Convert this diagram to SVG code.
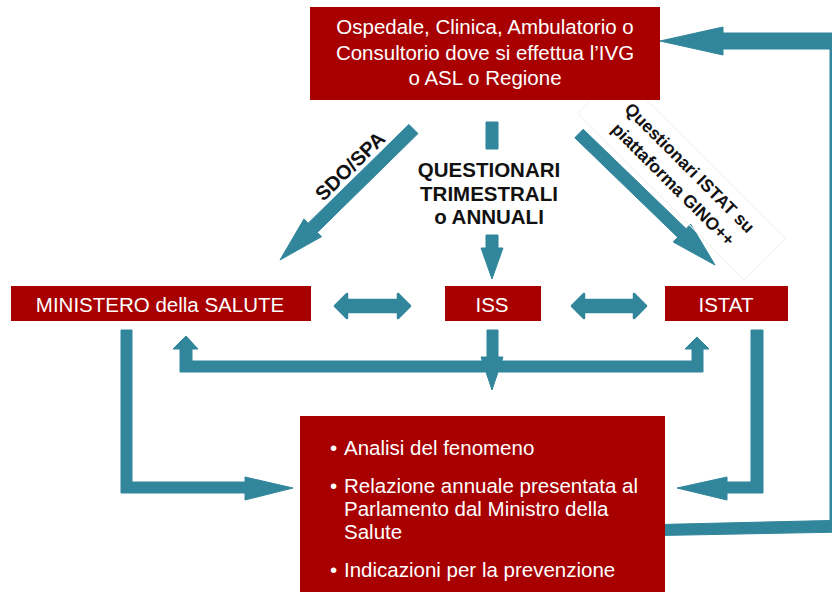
<svg xmlns="http://www.w3.org/2000/svg" width="832" height="592" viewBox="0 0 832 592">
<style>
.box{fill:#a80000;}
.bt{font-family:"Liberation Sans",Arial,sans-serif;font-size:20.5px;fill:#ffffff;}
.c{text-anchor:middle;}
.lbl{font-family:"Liberation Sans",Arial,sans-serif;font-weight:bold;fill:#111111;}
.con{fill:#31869b;stroke:#31869b;stroke-width:1;stroke-linejoin:round;}
.dbl{fill:#31869b;stroke:#31869b;stroke-width:2.5;stroke-linejoin:round;}
</style>
<rect width="832" height="592" fill="#ffffff"/>
<g id="connectors">
  <!-- feedback loop from results back to top -->
  <path class="con" d="M660 524.5 L830 520.5 L830 49 L723 49 L723 55 L660 41 L723 27 L723 33 L845 33 L845 532 L660 535.5 Z"/>
  <!-- SDO/SPA -->
  <polygon class="con" points="408.9,124.4 418,133.6 317.3,232.4 321.5,236.7 280,260 304,218.9 308.2,223.2"/>
  <!-- questionari -->
  <rect class="con" x="486" y="122" width="12" height="27"/>
  <polygon class="con" points="486,235 498,235 498,248 503,248 492,279 481,248 486,248"/>
  <!-- ISTAT questionnaires -->
  <polygon class="con" points="583.2,129.2 686.1,228.7 690.6,224 715,265 673.2,242 677.7,237.3 574.8,137.8"/>
  <!-- double arrows -->
  <polygon class="dbl" points="335,306 347,294 347,300 398,300 398,294 410,306 398,318 398,312 347,312 347,318"/>
  <polygon class="dbl" points="572,306 584,294 584,300 634,300 634,294 646,306 634,318 634,312 584,312 584,318"/>
  <!-- distribution bar -->
  <polygon class="con" points="180,372 180,349 173,349 186,336 198,349 192,349 192,361 692,361 692,349 685,349 697,337 709,349 703,349 703,372"/>
  <rect class="con" x="487" y="330" width="11" height="28"/>
  <polygon class="con" points="481,357 503,357 492,390"/>
  <!-- ministero to results -->
  <polygon class="con" points="121,330 132,330 132,482 245,482 245,477 293,488 245,500 245,493 121,493"/>
  <!-- istat to results -->
  <polygon class="con" points="751,330 763,330 763,493 727,493 727,500 677,488 727,477 727,482 751,482"/>
</g>
<g id="labels">
  <text class="lbl c" font-size="20" transform="translate(350,166) rotate(-44.4)" x="0" y="7">SDO/SPA</text>
  <text class="lbl c" font-size="20.5" x="489" y="177">QUESTIONARI</text>
  <text class="lbl c" font-size="20.5" x="489" y="201">TRIMESTRALI</text>
  <text class="lbl c" font-size="20.5" x="489" y="224">o ANNUALI</text>
  <g transform="translate(681.5,176) rotate(45)">
    <rect x="-118" y="-29" width="236" height="58" fill="none" stroke="#f3f3f3" stroke-width="1"/>
    <text class="lbl c" font-size="17.5" x="0" y="-5.5">Questionari ISTAT su</text>
    <text class="lbl c" font-size="17.5" x="0" y="17.8">piattaforma GINO++</text>
  </g>
</g>
<g id="n-source">
  <rect class="box" x="310" y="7" width="350" height="93"/>
  <text class="bt c" x="485" y="34">Ospedale, Clinica, Ambulatorio o</text>
  <text class="bt c" x="485" y="59.5">Consultorio dove si effettua l’IVG</text>
  <text class="bt c" x="485" y="84.5">o ASL o Regione</text>
</g>
<g id="n-ministero">
  <rect class="box" x="11" y="286" width="300" height="35"/>
  <text class="bt c" x="160" y="312">MINISTERO della SALUTE</text>
</g>
<g id="n-iss">
  <rect class="box" x="445" y="286" width="96" height="35"/>
  <text class="bt c" x="492" y="312">ISS</text>
</g>
<g id="n-istat">
  <rect class="box" x="665" y="286" width="123" height="35"/>
  <text class="bt c" x="726" y="312">ISTAT</text>
</g>
<g id="n-results">
  <rect class="box" x="300" y="416" width="365" height="180"/>
  <text class="bt" x="330" y="455">•</text>
  <text class="bt" x="344" y="455">Analisi del fenomeno</text>
  <text class="bt" x="330" y="493">•</text>
  <text class="bt" x="344" y="493">Relazione annuale presentata al</text>
  <text class="bt" x="344" y="516">Parlamento dal Ministro della</text>
  <text class="bt" x="344" y="539">Salute</text>
  <text class="bt" x="330" y="577">•</text>
  <text class="bt" x="344" y="577">Indicazioni per la prevenzione</text>
</g>
</svg>
